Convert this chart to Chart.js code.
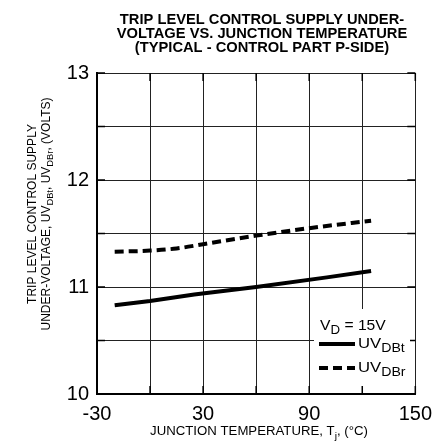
<!DOCTYPE html>
<html>
<head>
<meta charset="utf-8">
<script src="https://cdn.jsdelivr.net/npm/chart.js@4"></script>
<style>
  html, body { margin: 0; padding: 0; background: #fff; }
</style>
</head>
<body>
<canvas id="grafico" width="440" height="447"></canvas>
<script>
// valores
const tempsDBt = [-20, 0, 25, 60, 100, 125];
const uvDBt = [10.83, 10.87, 10.93, 11.0, 11.09, 11.15];
const tempsDBr = [-20, 0, 15, 30, 60, 90, 125];
const uvDBr = [11.33, 11.34, 11.36, 11.40, 11.48, 11.55, 11.62];
const xLabels = [-30, 30, 90, 150];
const yLabels = [10, 11, 12, 13];

const FONT = '"Liberation Sans", Arial, sans-serif';

// texto com subscritos: partes = [[texto, sub?], ...], sx = esticar na horizontal
function richWidth(ctx, parts, size, sub) {
    let w = 0;
    parts.forEach(function (p) {
        ctx.font = (p[1] ? size * sub : size) + "px " + FONT;
        w += ctx.measureText(p[0]).width;
    });
    return w;
}
function drawRich(ctx, parts, x, y, size, opts) {
    opts = opts || {};
    const sub = opts.sub || 0.78, sx = opts.sx || 1;
    let w = richWidth(ctx, parts, size, sub);
    ctx.save();
    ctx.translate(x, y);
    ctx.scale(sx, 1);
    let cx = opts.center ? -w / 2 : 0;
    parts.forEach(function (p) {
        ctx.font = (p[1] ? size * sub : size) + "px " + FONT;
        ctx.fillText(p[0], cx, p[1] ? size * 0.3 : 0);
        cx += ctx.measureText(p[0]).width;
    });
    ctx.restore();
}

const textos = {
    id: "textos",
    afterDraw: function (chart) {
        const ctx = chart.ctx;
        const area = chart.chartArea;
        const xs = chart.scales.x, ys = chart.scales.y;
        ctx.save();
        ctx.fillStyle = "#000";
        ctx.textBaseline = "alphabetic";

        // titulo
        ctx.textAlign = "center";
        ctx.font = "bold 14.7px " + FONT;
        ["TRIP LEVEL CONTROL SUPPLY UNDER-", "VOLTAGE VS. JUNCTION TEMPERATURE", "(TYPICAL - CONTROL PART P-SIDE)"]
            .forEach(function (t, i) { ctx.fillText(t, 262, 24 + i * 14); });
        ctx.textAlign = "left";

        // marcas internas
        ctx.strokeStyle = "#000";
        ctx.lineWidth = 1.5;
        ys.ticks.forEach(function (t) {
            const py = ys.getPixelForValue(t.value);
            ctx.beginPath();
            ctx.moveTo(area.left, py); ctx.lineTo(area.left + 8, py);
            ctx.moveTo(area.right - 8, py); ctx.lineTo(area.right, py);
            ctx.stroke();
        });
        xs.ticks.forEach(function (t) {
            const px = xs.getPixelForValue(t.value);
            ctx.beginPath();
            ctx.moveTo(px, area.top); ctx.lineTo(px, area.top + 8);
            ctx.moveTo(px, area.bottom - 8); ctx.lineTo(px, area.bottom);
            ctx.stroke();
        });

        // titulo eixo x
        drawRich(ctx, [["JUNCTION TEMPERATURE, T", false], ["j", true], [", (°C)", false]],
            259, 435, 12, { center: true, sx: 1.1 });

        // titulo eixo y
        ctx.save();
        ctx.translate(36, 214);
        ctx.rotate(-Math.PI / 2);
        drawRich(ctx, [["TRIP LEVEL CONTROL SUPPLY", false]], 0, 0, 12, { center: true });
        drawRich(ctx, [["UNDER-VOLTAGE, UV", false], ["DBt", true], [", UV", false], ["DBr", true], [", (VOLTS)", false]],
            0, 13.5, 12, { center: true });
        ctx.restore();

        // legenda
        ctx.fillStyle = "#fff";
        ctx.fillRect(314, 309, 96, 77);
        ctx.fillStyle = "#000";
        drawRich(ctx, [["V", false], ["D", true], [" = 15V", false]], 320, 330, 14.5, { sx: 1.08, sub: 0.85 });
        ctx.lineWidth = 4;
        ctx.beginPath();
        ctx.moveTo(319, 344); ctx.lineTo(355, 344);
        ctx.stroke();
        ctx.setLineDash([9, 5]);
        ctx.beginPath();
        ctx.moveTo(319, 368); ctx.lineTo(355, 368);
        ctx.stroke();
        ctx.setLineDash([]);
        drawRich(ctx, [["UV", false], ["DBt", true]], 358, 348, 14.5, { sx: 1.15, sub: 0.85 });
        drawRich(ctx, [["UV", false], ["DBr", true]], 358, 372, 14.5, { sx: 1.15, sub: 0.85 });
        ctx.restore();
    }
};

document.addEventListener("DOMContentLoaded", function () {
    new Chart(document.getElementById("grafico"), {
        type: "scatter",
        data: {
            datasets: [{
                label: "UVDBt",
                data: tempsDBt.map(function (t, i) { return { x: t, y: uvDBt[i] }; }),
                showLine: true,
                borderColor: "#000",
                borderWidth: 4,
                pointRadius: 0,
                fill: false
            }, {
                label: "UVDBr",
                data: tempsDBr.map(function (t, i) { return { x: t, y: uvDBr[i] }; }),
                showLine: true,
                borderColor: "#000",
                borderWidth: 4,
                borderDash: [9, 5],
                pointRadius: 0,
                cubicInterpolationMode: "monotone",
                fill: false
            }]
        },
        options: {
            responsive: false,
            animation: false,
            layout: { padding: { left: 0, right: 20, top: 73, bottom: 0 } },
            plugins: {
                legend: { display: false },
                title: { display: false },
                tooltip: { enabled: false }
            },
            scales: {
                x: {
                    type: "linear",
                    min: -30, max: 150,
                    afterFit: function (s) { s.height = 53; },
                    border: { color: "#000", width: 2 },
                    grid: { color: "#222", lineWidth: 1, drawTicks: false },
                    ticks: {
                        stepSize: 30,
                        padding: 8,
                        color: "#000",
                        maxRotation: 0,
                        font: { family: FONT, size: 20 },
                        callback: function (v) { return xLabels.includes(v) ? String(v) : ""; }
                    }
                },
                y: {
                    min: 10, max: 13,
                    afterFit: function (s) { s.width = 97; },
                    border: { color: "#000", width: 2 },
                    grid: { color: "#222", lineWidth: 1, drawTicks: false },
                    ticks: {
                        stepSize: 0.5,
                        padding: 8,
                        color: "#000",
                        font: { family: FONT, size: 20 },
                        callback: function (v) { return yLabels.includes(v) ? String(v) : ""; }
                    }
                }
            }
        },
        plugins: [textos]
    });
});
</script>
</body>
</html>
